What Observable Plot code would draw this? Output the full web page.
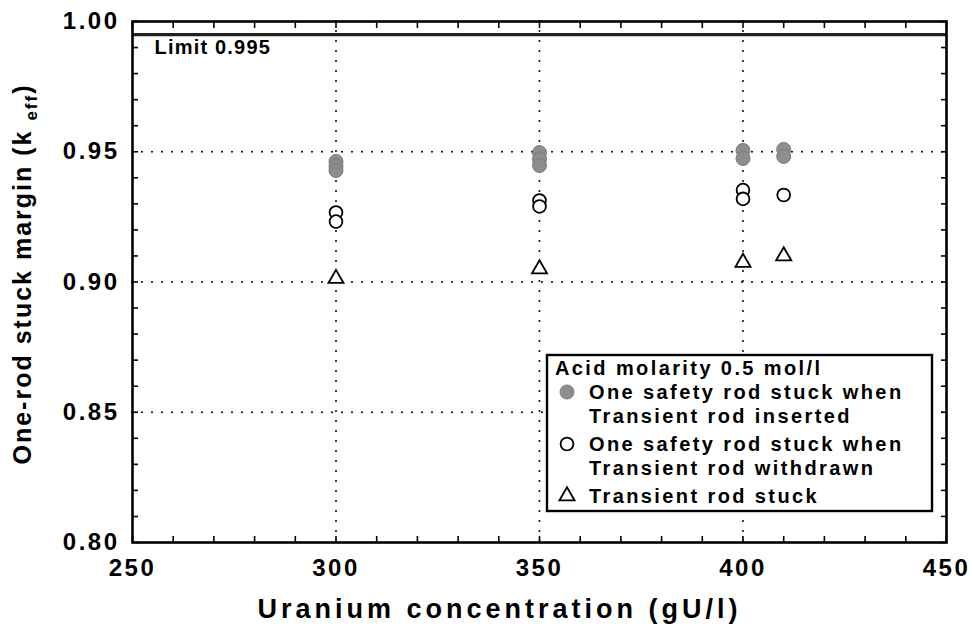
<!DOCTYPE html>
<html>
<head>
<meta charset="utf-8">
<script src="https://cdn.jsdelivr.net/npm/d3@7"></script>
<script src="https://cdn.jsdelivr.net/npm/@observablehq/plot@0.6"></script>
<style>
  body { margin: 0; background: #fff; }
  #chart svg { display: block; }
  #chart text { font-family: "Liberation Sans", Arial, sans-serif; font-weight: bold; }
</style>
</head>
<body>
<div id="chart"></div>
<script>
// k_eff with one safety rod stuck, transient rod inserted (several cases per concentration)
const insertedConc = [300, 300, 300, 350, 350, 350, 400, 400, 410, 410];
const insertedKeff = [0.9463, 0.9445, 0.9428, 0.9497, 0.9472, 0.9447, 0.9505, 0.9474, 0.9509, 0.9482];
// k_eff with one safety rod stuck, transient rod withdrawn
const withdrawnConc = [300, 300, 350, 350, 400, 400, 410];
const withdrawnKeff = [0.9267, 0.9232, 0.9313, 0.9290, 0.9353, 0.9319, 0.9334];
// k_eff with the transient rod stuck
const stuckConc = [300, 350, 400, 410];
const stuckKeff = [0.9013, 0.9050, 0.9075, 0.9100];

const limitKeff = 0.995;
const limitLabel = "Limit 0.995";

const xTicks = [250, 300, 350, 400, 450];
const yTicks = [0.80, 0.85, 0.90, 0.95, 1.00];
const xGrid = [300, 350, 400];
const yGrid = [0.85, 0.90, 0.95];
const xMinor = d3.range(250, 451, 10);
const yMinor = d3.range(80, 101).map(d => d / 100);

const xTitle = "Uranium concentration (gU/l)";
const yTitle = "One-rod stuck margin (k eff)";
const legendTitle = "Acid molarity 0.5 mol/l";
const legendLabels = [
  ["One safety rod stuck when", "Transient rod inserted"],
  ["One safety rod stuck when", "Transient rod withdrawn"],
  ["Transient rod stuck"]
];

const inserted = insertedConc.map((c, i) => ({conc: c, keff: insertedKeff[i]}));
const withdrawn = withdrawnConc.map((c, i) => ({conc: c, keff: withdrawnKeff[i]}))
  .sort((a, b) => b.keff - a.keff);
const stuck = stuckConc.map((c, i) => ({conc: c, keff: stuckKeff[i]}));

const dotted = {stroke: "black", strokeWidth: 2, strokeDasharray: "0,10", strokeLinecap: "round"};
const tickFont = {fontSize: 24, fontWeight: "bold"};

const chart = Plot.plot({
  width: 973,
  height: 641,
  marginLeft: 132,
  marginRight: 27,
  marginTop: 21,
  marginBottom: 99,
  style: {background: "white", fontFamily: "'Liberation Sans', Arial, sans-serif"},
  x: {domain: [250, 450]},
  y: {domain: [0.80, 1.00]},
  marks: [
    Plot.ruleX(xGrid, dotted),
    Plot.ruleY(yGrid, dotted),
    Plot.ruleY([limitKeff], {stroke: "#222", strokeWidth: 3.2}),
    // minor ticks, drawn inward on all four sides
    Plot.axisX(xMinor, {anchor: "bottom", tickSize: -6, tickFormat: () => "", label: null, strokeWidth: 1.6}),
    Plot.axisX(xMinor, {anchor: "top", tickSize: -6, tickFormat: () => "", label: null, strokeWidth: 1.6}),
    Plot.axisY(yMinor, {anchor: "left", tickSize: -6, tickFormat: () => "", label: null, strokeWidth: 1.6}),
    Plot.axisY(yMinor, {anchor: "right", tickSize: -6, tickFormat: () => "", label: null, strokeWidth: 1.6}),
    // tick labels
    Plot.axisX(xTicks, {anchor: "bottom", tickSize: 0, tickPadding: 16, label: null, ...tickFont}),
    Plot.axisY(yTicks, {anchor: "left", tickSize: 0, tickPadding: 13, tickFormat: d3.format(".2f"), label: null, ...tickFont}),
    // axis titles
    Plot.text([xTitle], {frameAnchor: "bottom", dy: 75, dx: -40, fontSize: 27, fontWeight: "bold"}),
    Plot.text([yTitle], {frameAnchor: "left", textAnchor: "middle", dx: -110, dy: -8, rotate: -90, fontSize: 25, fontWeight: "bold"}),
    Plot.text([limitLabel], {frameAnchor: "top-left", dx: 22, dy: 18, textAnchor: "start", fontSize: 20, fontWeight: "bold"}),
    // data
    Plot.dot(inserted, {x: "conc", y: "keff", r: 7, fill: "#8d8d8d", stroke: "#7c7c7c", strokeWidth: 1}),
    Plot.dot(withdrawn, {x: "conc", y: "keff", r: 6.4, fill: "white", stroke: "black", strokeWidth: 1.8}),
    Plot.dot(stuck, {x: "conc", y: "keff", r: 5.6, symbol: "triangle", fill: "white", stroke: "black", strokeWidth: 1.8}),
    Plot.frame({stroke: "black", strokeWidth: 2.6})
  ]
});

document.getElementById("chart").appendChild(chart);
const svg = d3.select(chart);

// letter spacing for the condensed bold lettering
svg.selectAll("text").each(function() {
  const t = this.textContent;
  if (t === xTitle) this.setAttribute("letter-spacing", "4");
  else if (t === limitLabel) this.setAttribute("letter-spacing", "1.2");
  else if (t === yTitle) this.setAttribute("letter-spacing", "2");
  else this.setAttribute("letter-spacing", "2.5");
});

// subscript "eff" in the y title
svg.selectAll("text").filter(function() { return this.textContent === yTitle; }).each(function() {
  const el = d3.select(this);
  el.text(null);
  el.append("tspan").text("One-rod stuck margin (k ");
  el.append("tspan").attr("font-size", 17).attr("dy", 6).text("eff");
  el.append("tspan").attr("dy", -6).text(")");
});

// legend box
const lg = svg.append("g")
  .attr("font-family", "'Liberation Sans', Arial, sans-serif")
  .attr("font-weight", "bold")
  .attr("font-size", 20)
  .attr("text-anchor", "start")
  .attr("letter-spacing", 2.4);
const box = {x: 547, y: 355, w: 385, h: 156};
lg.append("rect").attr("x", box.x).attr("y", box.y).attr("width", box.w).attr("height", box.h)
  .attr("fill", "white").attr("stroke", "black").attr("stroke-width", 2.4);
lg.append("text").attr("x", box.x + 8).attr("y", box.y + 20).text(legendTitle);

const rowH = 24;
const markerX = box.x + 20;
const textX = box.x + 42;
const symbols = [
  {type: d3.symbolCircle, r: 7, fill: "#8d8d8d", stroke: "#7c7c7c", sw: 1},
  {type: d3.symbolCircle, r: 6.4, fill: "white", stroke: "black", sw: 1.8},
  {type: d3.symbolTriangle, r: 5.6, fill: "white", stroke: "black", sw: 1.8}
];
let y = box.y + 44;
legendLabels.forEach((lines, i) => {
  const s = symbols[i];
  lg.append("path")
    .attr("d", d3.symbol(s.type, Math.PI * s.r * s.r)())
    .attr("transform", `translate(${markerX},${y - 7})`)
    .attr("fill", s.fill).attr("stroke", s.stroke).attr("stroke-width", s.sw);
  lines.forEach((line, j) => {
    lg.append("text").attr("x", textX).attr("y", y + j * rowH).text(line);
  });
  y += lines.length * rowH + 4;
});
</script>
</body>
</html>
